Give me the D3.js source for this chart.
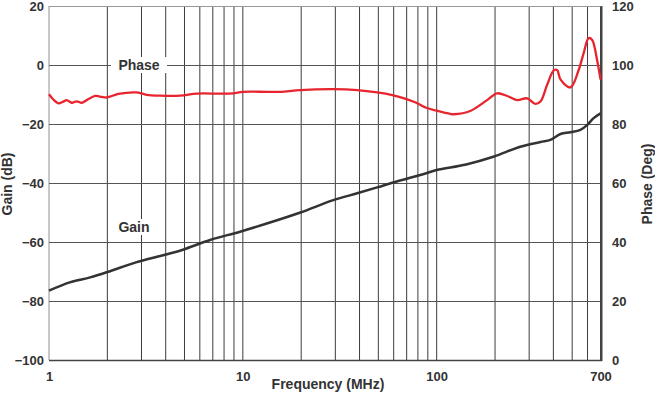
<!DOCTYPE html>
<html>
<head>
<meta charset="utf-8">
<script src="https://cdn.jsdelivr.net/npm/d3@7"></script>
<style>
  body { margin: 0; background: #fff; }
  text { font-family: "Liberation Sans", Arial, sans-serif; font-weight: bold; fill: #333; }
</style>
</head>
<body>
<div id="chart"></div>
<script>
const width = 655;
const height = 395;
const margin = { top: 6, right: 54, bottom: 35, left: 49 };

// values
const gainFreq = [1, 1.28, 1.63, 2.02, 2.81, 3.83, 4.86, 6.78, 9.68, 13.8, 19.8, 29.3, 38.9, 49.3, 59, 88.4, 100, 142, 196, 270, 343, 386, 435, 490, 551, 599, 643, 700];
const gainDb = [-76.5, -73.7, -72.0, -70.1, -66.9, -64.6, -62.7, -59.3, -56.5, -53.4, -50.0, -45.8, -43.5, -41.5, -39.9, -36.7, -35.6, -33.7, -31.1, -27.7, -26.1, -25.4, -23.4, -22.8, -22.0, -20.3, -18.1, -16.4];

const phaseFreq = [1, 1.05, 1.117, 1.185, 1.234, 1.31, 1.39, 1.475, 1.565, 1.73, 1.83, 1.99, 2.28, 2.84, 3.19, 3.74, 4.75, 5.79, 7.64, 8.91, 10, 13.35, 15.6, 19.8, 29.3, 38.9, 49.4, 59, 68, 78.5, 88.4, 100, 117.6, 122, 149, 182, 205, 231, 260, 293, 323, 343, 371, 401, 418, 435, 490, 540, 573, 608, 634, 672, 700];
const phaseDeg = [90.1, 88.4, 87.0, 87.6, 88.1, 87.2, 87.7, 87.2, 88.1, 89.5, 89.3, 89.0, 90.2, 90.7, 89.9, 89.6, 89.6, 90.3, 90.3, 90.4, 90.9, 90.9, 90.9, 91.5, 91.8, 91.5, 90.7, 89.8, 88.7, 87.2, 85.5, 84.5, 83.4, 83.3, 84.4, 88.1, 90.4, 89.5, 88.1, 88.7, 86.8, 87.6, 93.2, 98.1, 98.3, 95.1, 92.4, 98.3, 104, 109.1, 108.5, 101.7, 95.1];

const gainTicks = [-100, -80, -60, -40, -20, 0, 20];
const phaseTicks = [0, 20, 40, 60, 80, 100, 120];
const freqTicks = [1, 10, 100, 700];
const freqGrid = [1, 2, 3, 4, 5, 6, 7, 8, 9, 10, 20, 30, 40, 50, 60, 70, 80, 90, 100, 200, 300, 400, 500, 600, 700];

const svg = d3.select("#chart")
    .append("svg")
    .attr("width", width)
    .attr("height", height);

const x = d3.scaleLog()
    .domain([1, 700])
    .range([margin.left, width - margin.right - 0.5]);
const yGain = d3.scaleLinear()
    .domain([-100, 20])
    .range([height - margin.bottom, margin.top]);
const yPhase = d3.scaleLinear()
    .domain([0, 120])
    .range([height - margin.bottom, margin.top]);

// grid
svg.append("g")
    .selectAll("line")
    .data(freqGrid)
    .join("line")
    .attr("x1", d => x(d))
    .attr("x2", d => x(d))
    .attr("y1", margin.top)
    .attr("y2", height - margin.bottom)
    .attr("stroke", d => d === 1 ? "#c8c8c8" : "#3c3c3c")
    .attr("stroke-width", d => d === 1 ? 2 : 1);

svg.append("g")
    .selectAll("line")
    .data(gainTicks.filter(d => d > -100))
    .join("line")
    .attr("x1", margin.left)
    .attr("x2", width - margin.right)
    .attr("y1", d => Math.round(yGain(d)) + 0.5)
    .attr("y2", d => Math.round(yGain(d)) + 0.5)
    .attr("stroke", d => d === 20 ? "#999" : "#555")
    .attr("stroke-width", 1);

// frame: bottom and right
svg.append("line")
    .attr("x1", margin.left).attr("x2", width - margin.right + 1)
    .attr("y1", height - margin.bottom + 0.5).attr("y2", height - margin.bottom + 0.5)
    .attr("stroke", "#444").attr("stroke-width", 1.3);
svg.append("line")
    .attr("x1", width - margin.right + 0.5).attr("x2", width - margin.right + 0.5)
    .attr("y1", margin.top).attr("y2", height - margin.bottom + 1)
    .attr("stroke", "#444").attr("stroke-width", 2);

// axes labels
const leftAxis = svg.append("g")
    .attr("transform", `translate(${margin.left - 5},0)`)
    .call(d3.axisLeft(yGain).tickValues(gainTicks).tickSize(0).tickPadding(0));
const rightAxis = svg.append("g")
    .attr("transform", `translate(${width - margin.right + 11},0)`)
    .call(d3.axisRight(yPhase).tickValues(phaseTicks).tickSize(0).tickPadding(0));
const bottomAxis = svg.append("g")
    .attr("transform", `translate(0,${height - margin.bottom + 12})`)
    .call(d3.axisBottom(x).tickValues(freqTicks).tickFormat(d3.format("d")).tickSize(0).tickPadding(0));

[leftAxis, rightAxis, bottomAxis].forEach(g => {
    g.select(".domain").remove();
    g.selectAll("text")
        .attr("fill", "#333")
        .style("font-size", "13px")
        .style("font-family", "'Liberation Sans', Arial, sans-serif")
        .style("font-weight", "bold");
});

// axis titles
svg.append("text")
    .attr("transform", "translate(12,184) rotate(-90)")
    .attr("text-anchor", "middle")
    .style("font-size", "14px")
    .text("Gain (dB)");
svg.append("text")
    .attr("transform", "translate(652,184) rotate(-90)")
    .attr("text-anchor", "middle")
    .style("font-size", "14px")
    .text("Phase (Deg)");
svg.append("text")
    .attr("x", 328)
    .attr("y", 389)
    .attr("text-anchor", "middle")
    .style("font-size", "14px")
    .text("Frequency (MHz)");

// lines
const gainLine = d3.line()
    .x(d => x(d[0]))
    .y(d => yGain(d[1]))
    .curve(d3.curveCatmullRom.alpha(0.5));
const phaseLine = d3.line()
    .x(d => x(d[0]))
    .y(d => yPhase(d[1]))
    .curve(d3.curveCatmullRom.alpha(0.5));

svg.append("path")
    .datum(gainFreq.map((f, i) => [f, gainDb[i]]))
    .attr("fill", "none")
    .attr("stroke", "#333")
    .attr("stroke-width", 2.5)
    .attr("d", gainLine);

svg.append("path")
    .datum(phaseFreq.map((f, i) => [f, phaseDeg[i]]))
    .attr("fill", "none")
    .attr("stroke", "#e8252e")
    .attr("stroke-width", 2.3)
    .attr("d", phaseLine);

// in-plot labels with white boxes
function tag(label, cx, cy, w) {
    svg.append("rect")
        .attr("x", cx - w / 2).attr("y", cy - 8)
        .attr("width", w).attr("height", 16)
        .attr("fill", "#fff");
    svg.append("text")
        .attr("x", cx).attr("y", cy + 5)
        .attr("text-anchor", "middle")
        .style("font-size", "14px")
        .text(label);
}
tag("Phase", 139, 65, 56);
tag("Gain", 134, 227, 34);
</script>
</body>
</html>
